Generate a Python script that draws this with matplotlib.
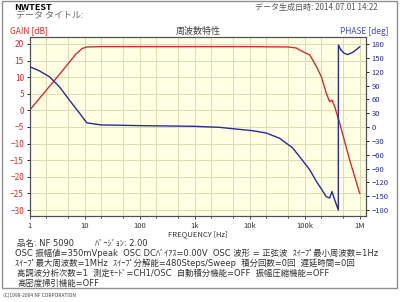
import numpy as np
import matplotlib
matplotlib.use("Agg")
import matplotlib.pyplot as plt
from matplotlib.patches import Rectangle
from matplotlib.ticker import FixedLocator, NullFormatter

plt.rcParams['font.family'] = ['Noto Sans CJK JP', 'DejaVu Sans']
mixed = ['DejaVu Sans', 'Noto Sans CJK JP']

# gain curve [dB]
gain_f = [1, 2, 3, 5, 7, 9, 11, 20, 100, 1e3, 1e4, 5e4, 70e3, 81e3, 100e3, 124e3,
          163e3, 200e3, 246e3, 284e3, 313e3, 351e3, 433e3, 658e3, 1e6]
gain_db = [0, 6, 9.5, 14, 17, 18.6, 19.1, 19.2, 19.2, 19.2, 19.2, 19.1, 18.8, 18.2,
           17.4, 16.7, 13.2, 10.2, 5.2, 2.6, 3.1, 1.1, -3.9, -15, -25]

# phase curve [deg]
phase_f = [1, 1.5, 2.31, 3.51, 5.34, 8.1, 11, 20, 100, 1e3, 2.8e3, 11.3e3, 20e3,
           35e3, 60e3, 81e3, 124e3, 163e3, 200e3, 246e3, 284e3, 313e3, 351e3,
           408e3, 410e3, 450e3, 520e3, 600e3, 750e3, 1e6]
phase_deg = [131, 122, 109, 87, 58, 30, 9, 4.5, 3, 1.5, -0.7, -8, -13,
             -24.5, -45, -64.5, -93, -118, -134, -151, -154, -140, -158,
             -180, 178, 168, 160, 157, 162, 174]

gain_ticks = [20, 15, 10, 5, 0, -5, -10, -15, -20, -25, -30]
phase_ticks = [180, 150, 120, 90, 60, 30, 0, -30, -60, -90, -120, -150, -180]
freq_ticks = [1, 10, 100, 1e3, 1e4, 1e5, 1e6]
freq_labels = ['1', '10', '100', '1k', '10k', '100k', '1M']

info_lines = [
    "品名: NF 5090        ﾊﾞｰｼﾞｮﾝ: 2.00",
    "OSC 振幅値=350mVpeak  OSC DCﾊﾞｲｱｽ=0.00V  OSC 波形 = 正弦波  ｽｲｰﾌﾟ最小周波数=1Hz",
    "ｽｲｰﾌﾟ最大周波数=1MHz  ｽｲｰﾌﾟ分解能=480Steps/Sweep  積分回数=0回  遅延時間=0回",
    "高調波分析次数=1  測定ﾓｰﾄﾞ=CH1/OSC  自動積分機能=OFF  振幅圧縮機能=OFF",
    "高密度掃引機能=OFF",
]

red = '#cc3030'
blue = '#2a2a99'
W, H = 400, 302

fig = plt.figure(figsize=(W / 100, H / 100), dpi=100, facecolor='w')

# outer frame
fig.patches.append(Rectangle((2 / W, 1 - 288 / H), 395 / W, 287 / H,
                             transform=fig.transFigure, fill=False,
                             edgecolor='#909090', lw=1))

ax = fig.add_axes([29.5 / W, 1 - 216 / H, (366 - 29.5) / W, (216 - 37) / H])
ax.set_facecolor('#ffffe4')
ax.set_xscale('log')
ax.set_xlim(1, 1.3e6)
ax.set_ylim(-31.8, 22.1)

minors = [m * 10 ** d for d in range(0, 7) for m in (2, 5)]
for v in freq_ticks + minors:
    ax.axvline(v, color='#dcdcb4', lw=0.7, zorder=0)
for g in gain_ticks:
    ax.axhline(g, color='#dcdcb4', lw=0.7, zorder=0)

ax.plot(gain_f, gain_db, color=red, lw=1.0, zorder=3)
ax.xaxis.set_major_locator(FixedLocator(freq_ticks))
ax.set_xticklabels(freq_labels)
ax.xaxis.set_minor_locator(FixedLocator(minors))
ax.xaxis.set_minor_formatter(NullFormatter())
ax.set_yticks(gain_ticks)
ax.tick_params(axis='x', labelsize=5.5, length=2.5, width=0.6, pad=1.5, colors='#333333')
ax.tick_params(axis='x', which='minor', length=1.5, width=0.5)
ax.tick_params(axis='y', labelsize=6, length=2.5, width=0.6, pad=1.5, labelcolor=red)
ax.set_xlabel('FREQUENCY [Hz]', fontsize=5.5, labelpad=0.5, color='#333333')

ax2 = ax.twinx()
ax2.set_ylim(-193, 195.2)
ax2.plot(phase_f, phase_deg, color=blue, lw=1.0, zorder=3)
ax2.set_yticks(phase_ticks)
ax2.tick_params(axis='y', labelsize=5.5, length=2.5, width=0.6, pad=1.5, labelcolor=blue)

for a in (ax, ax2):
    for s in a.spines.values():
        s.set_color('#505050')
        s.set_linewidth(0.8)

fig.text(14 / W, 1 - 7 / H, 'NWTEST', fontsize=6.5, weight='bold', va='center')
fig.text(16 / W, 1 - 16 / H, 'データ タイトル:', fontsize=6.5, color='#666666', va='center')
fig.text(378 / W, 1 - 7 / H, 'データ生成日時: 2014.07.01 14:22', fontsize=5.8,
         color='#555555', va='center', ha='right')
fig.text(10 / W, 1 - 31 / H, 'GAIN [dB]', fontsize=6, color=red, va='center')
fig.text(198 / W, 1 - 31 / H, '周波数特性', fontsize=6.5, color='#444444',
         va='center', ha='center')
fig.text(389 / W, 1 - 31 / H, 'PHASE [deg]', fontsize=6, color='#4a4aa8',
         va='center', ha='right')

for i, line in enumerate(info_lines):
    x0 = 17 if i == 0 or i == 3 or i == 4 else 15
    fig.text(x0 / W, 1 - (243 + 10 * i) / H, line, fontsize=6.0, color='#333333',
             va='center', family=mixed)

fig.text(3 / W, 1 - 295 / H, '(C)1998-2004 NF CORPORATION', fontsize=3.5,
         color='#444444', va='center')

fig.savefig('out.png', dpi=100)
